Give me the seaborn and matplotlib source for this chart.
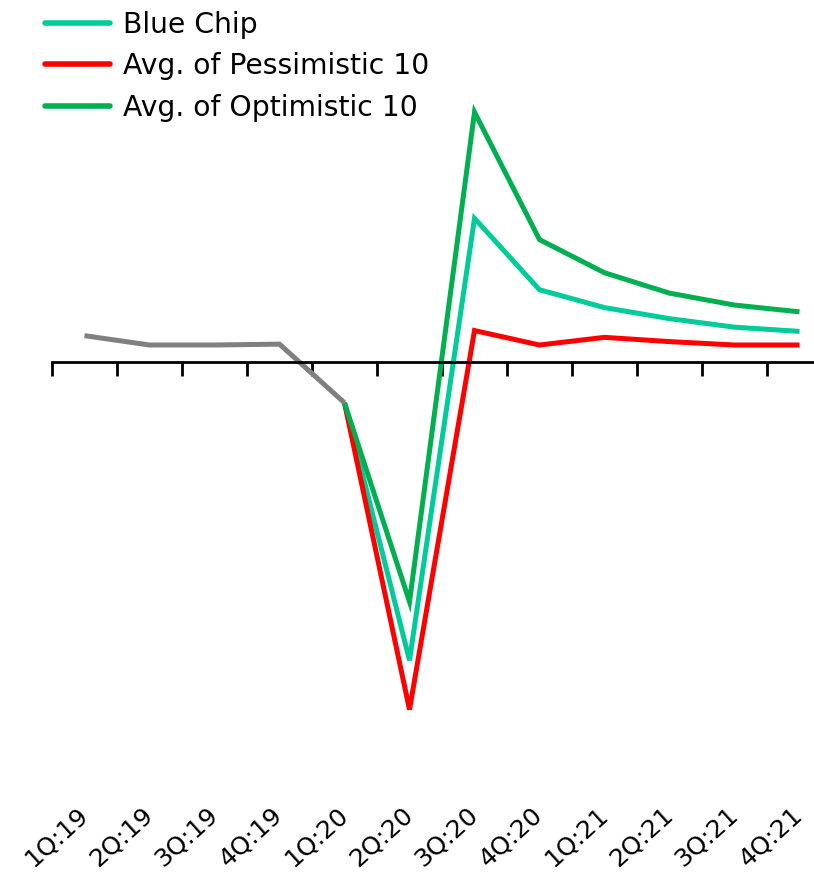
import numpy as np
import pandas as pd
import matplotlib
matplotlib.use("Agg")
import matplotlib.pyplot as plt
import seaborn as sns

quarters = ["1Q:19", "2Q:19", "3Q:19", "4Q:19", "1Q:20", "2Q:20",
            "3Q:20", "4Q:20", "1Q:21", "2Q:21", "3Q:21", "4Q:21"]
history = [3.1, 2.0, 2.0, 2.1, -4.8]            # 1Q:19 .. 1Q:20
blue_chip = [-4.8, -35.1, 16.9, 8.5, 6.4, 5.1, 4.1, 3.6]      # 1Q:20 .. 4Q:21
pessimistic = [-4.8, -40.9, 3.7, 2.0, 2.9, 2.4, 2.0, 2.0]
optimistic = [-4.8, -28.2, 29.4, 14.4, 10.5, 8.1, 6.7, 5.9]
series_names = ["Blue Chip", "Avg. of Pessimistic 10", "Avg. of Optimistic 10"]
colors = ["#00CC99", "#FF0000", "#00B050"]

sns.set_theme(style="white")
plt.rcParams["font.family"] = ["DejaVu Sans"]
plt.rcParams["text.color"] = "black"
plt.rcParams["xtick.color"] = "black"

W, H = 814, 877
fig = plt.figure(figsize=(W / 100, H / 100), dpi=100)
left_px, right_px, top_px, bottom_px = 52, 832, 0, 795
ax = fig.add_axes([left_px / W, (H - bottom_px) / H,
                   (right_px - left_px) / W, (bottom_px - top_px) / H])

hist_df = pd.DataFrame({"x": np.arange(len(history)), "y": history})
fc_x = np.arange(4, 4 + len(blue_chip))
fc_df = pd.concat([
    pd.DataFrame({"x": fc_x, "y": vals, "series": name})
    for name, vals in zip(series_names, [blue_chip, pessimistic, optimistic])
])

sns.lineplot(data=fc_df, x="x", y="y", hue="series", hue_order=series_names,
             palette=colors, linewidth=3.6, ax=ax, sort=False)
sns.lineplot(data=hist_df, x="x", y="y", color="#808080", linewidth=3.6,
             ax=ax, legend=False)

for line in ax.get_lines():
    line.set_solid_capstyle("butt")
    line.set_solid_joinstyle("miter")

scale = 8.5
ax.set_xlim(-0.5, 11.5)
ax.set_ylim(-(bottom_px - 362) / scale, 362 / scale)

for s in ["top", "right", "left"]:
    ax.spines[s].set_visible(False)
ax.spines["bottom"].set_position(("data", 0))
ax.spines["bottom"].set_linewidth(2)
ax.spines["bottom"].set_color("black")
ax.set_yticks([])
ax.set_xticks(np.arange(12))
ax.set_xticklabels([])
ax.set_xticks(np.arange(-0.5, 12, 1), minor=True)
ax.tick_params(axis="x", which="major", length=0)
ax.tick_params(axis="x", which="minor", length=10, width=2, direction="out",
               color="black", bottom=True)
ax.set_xlabel("")
ax.set_ylabel("")

sec = ax.secondary_xaxis(location=0)
sec.spines["bottom"].set_visible(False)
sec.set_xticks(np.arange(12))
sec.set_xticklabels(quarters, fontsize=18, color="black")
sec.tick_params(axis="x", length=0, pad=12)
plt.setp(sec.get_xticklabels(), rotation=42, ha="right", va="center",
         rotation_mode="anchor")

leg = ax.legend(loc="upper left", bbox_to_anchor=(45 / W, 1 - 11 / H),
                bbox_transform=fig.transFigure, frameon=False, fontsize=20.3,
                handlelength=2.3, handletextpad=0.45, labelspacing=0.47,
                borderpad=0, borderaxespad=0)
for t in leg.get_texts():
    t.set_color("black")
for h in leg.get_lines():
    h.set_linewidth(4)
    h.set_solid_capstyle("round")

fig.savefig("out.png", dpi=100)
